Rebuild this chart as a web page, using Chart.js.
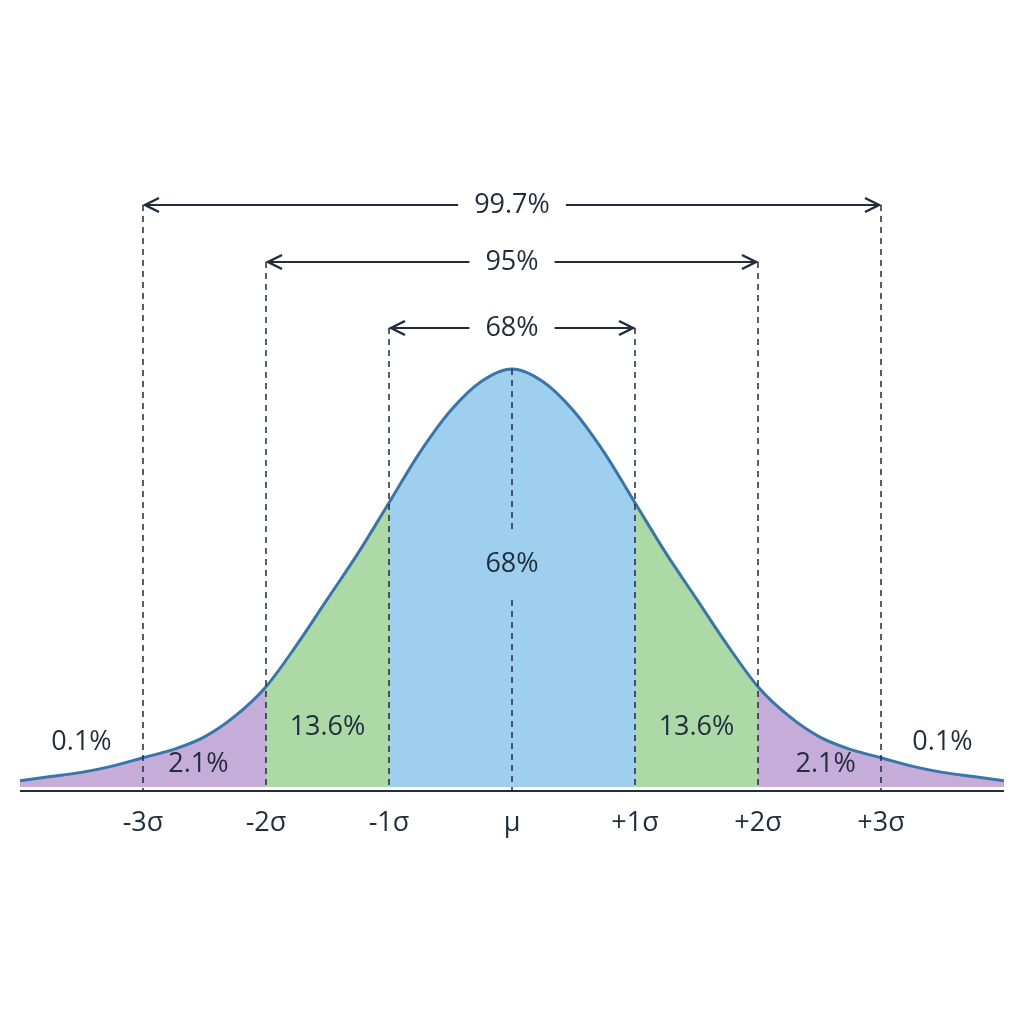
<!DOCTYPE html>
<html>
<head>
<meta charset="utf-8">
<script src="https://cdn.jsdelivr.net/npm/chart.js@4"></script>
<style>
  html, body { margin: 0; padding: 0; background: #fff; }
  #wrap { width: 1024px; height: 1024px; }
</style>
</head>
<body>
<div id="wrap"><canvas id="chart" width="1024" height="1024"></canvas></div>
<script>
const sigmaX = [-4, -3.75, -3.5, -3.25, -3, -2.75, -2.5, -2.25, -2, -1.75, -1.5, -1.25, -1, -0.75, -0.5, -0.25,
  0, 0.25, 0.5, 0.75, 1, 1.25, 1.5, 1.75, 2, 2.25, 2.5, 2.75, 3, 3.25, 3.5, 3.75, 4];
const heights = [1.5, 2.5, 3.5, 5, 7, 9, 12, 17, 24, 34, 45, 56, 68, 80, 90, 97,
  100, 97, 90, 80, 68, 56, 45, 34, 24, 17, 12, 9, 7, 5, 3.5, 2.5, 1.5];

const tickLabels = ['-3σ', '-2σ', '-1σ', 'μ', '+1σ', '+2σ', '+3σ'];
const tickValues = [-3, -2, -1, 0, 1, 2, 3];
const bandLabels = ['0.1%', '2.1%', '13.6%', '68%', '13.6%', '2.1%', '0.1%'];
const bandCenters = [-3.5, -2.55, -1.5, 0, 1.5, 2.55, 3.5];
const rangeLabels = ['68%', '95%', '99.7%'];
const rangeWidths = [1, 2, 3];

const points = sigmaX.map((x, i) => ({ x: x, y: heights[i] }));
function slice(a, b) { return points.filter(p => p.x >= a && p.x <= b); }

const regions = [
  { from: -4, to: -2, color: '#c5acd9' },
  { from: -2, to: -1, color: '#acd9a6' },
  { from: -1, to: 1, color: '#9fcfee' },
  { from: 1, to: 2, color: '#acd9a6' },
  { from: 2, to: 4, color: '#c5acd9' }
];

const ink = '#1f2d3d';

const overlay = {
  id: 'overlay',
  afterDatasetsDraw(chart) {
    const ctx = chart.ctx;
    const xs = chart.scales.x;
    const ys = chart.scales.y;
    const base = ys.getPixelForValue(0);
    ctx.save();
    // dashed lines
    ctx.strokeStyle = ink;
    ctx.lineWidth = 1.5;
    ctx.setLineDash([6, 5]);
    const tops = { 3: 205, 2: 262, 1: 328 };
    tickValues.forEach(v => {
      const px = xs.getPixelForValue(v);
      ctx.beginPath();
      if (v === 0) {
        ctx.moveTo(px, ys.getPixelForValue(100)); ctx.lineTo(px, 530);
        ctx.moveTo(px, 600); ctx.lineTo(px, base + 4);
      } else {
        ctx.moveTo(px, tops[Math.abs(v)]); ctx.lineTo(px, base + 4);
      }
      ctx.stroke();
    });
    ctx.setLineDash([]);
    // axis
    ctx.lineWidth = 2;
    ctx.beginPath();
    ctx.moveTo(xs.left, base + 4); ctx.lineTo(xs.right, base + 4);
    ctx.stroke();
    ctx.fillStyle = ink;
    ctx.textAlign = 'center';
    ctx.textBaseline = 'middle';
    ctx.font = '27px "Open Sans", sans-serif';
    tickValues.forEach((v, i) => ctx.fillText(tickLabels[i], xs.getPixelForValue(v), 823));
    // band labels
    const bandY = [742, 764, 727, 564, 727, 764, 742];
    bandCenters.forEach((c, i) => ctx.fillText(bandLabels[i], xs.getPixelForValue(c), bandY[i]));
    // range arrows
    rangeWidths.forEach((w, i) => {
      const y = tops[w];
      const l = xs.getPixelForValue(-w), r = xs.getPixelForValue(w);
      const label = rangeLabels[i];
      const tw = ctx.measureText(label).width / 2 + 16;
      const mid = xs.getPixelForValue(0);
      ctx.lineWidth = 2;
      ctx.beginPath();
      ctx.moveTo(l + 2, y); ctx.lineTo(mid - tw, y);
      ctx.moveTo(mid + tw, y); ctx.lineTo(r - 2, y);
      ctx.stroke();
      [[l, 1], [r, -1]].forEach(([x, d]) => {
        ctx.beginPath();
        ctx.moveTo(x + d * 16, y - 7); ctx.lineTo(x + d * 2, y); ctx.lineTo(x + d * 16, y + 7);
        ctx.lineWidth = 2.5;
        ctx.stroke();
      });
      ctx.fillText(label, mid, y);
    });
    ctx.restore();
  }
};

const datasets = [{
  data: points,
  borderColor: '#3a75a8',
  borderWidth: 3,
  fill: false,
  pointRadius: 0,
  cubicInterpolationMode: 'monotone'
}];
regions.forEach(r => datasets.push({
  data: slice(r.from, r.to),
  backgroundColor: r.color,
  borderWidth: 0,
  fill: 'origin',
  pointRadius: 0,
  cubicInterpolationMode: 'monotone'
}));

new Chart(document.getElementById('chart'), {
  type: 'line',
  data: { datasets: datasets },
  options: {
    responsive: false,
    animation: false,
    layout: { padding: { left: 20, right: 20, top: 160, bottom: 237 } },
    plugins: { legend: { display: false }, tooltip: { enabled: false } },
    scales: {
      x: { type: 'linear', min: -4, max: 4, display: false },
      y: { min: 0, max: 150, display: false }
    }
  },
  plugins: [overlay]
});
</script>
</body>
</html>
